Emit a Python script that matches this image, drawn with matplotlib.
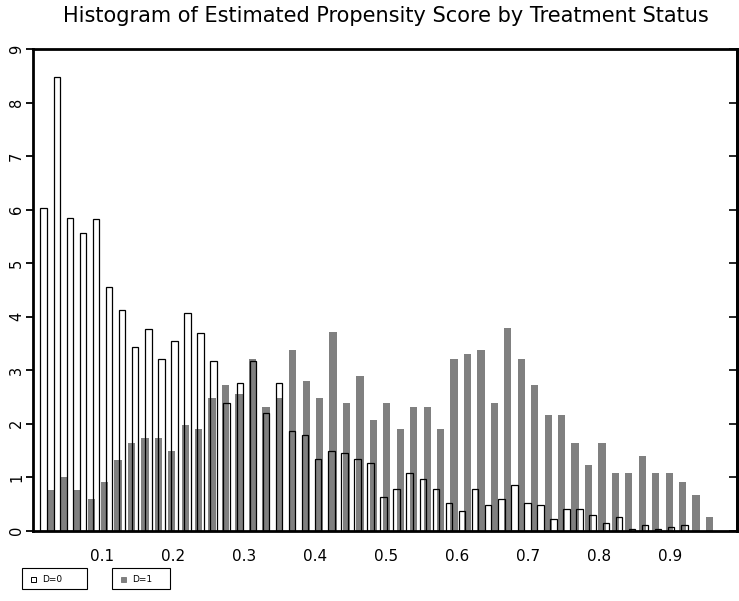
import numpy as np
import matplotlib
matplotlib.use('Agg')
import matplotlib.pyplot as plt
from matplotlib.patches import Rectangle

# density of the estimated propensity score, 50 bins per group
d0_density = [6.03, 8.48, 5.85, 5.56, 5.82, 4.55, 4.13, 3.43, 3.76, 3.20,
              3.54, 4.06, 3.69, 3.16, 2.39, 2.76, 3.16, 2.20, 2.76, 1.86,
              1.79, 1.34, 1.49, 1.45, 1.34, 1.26, 0.63, 0.78, 1.08, 0.97,
              0.78, 0.52, 0.37, 0.78, 0.48, 0.59, 0.85, 0.52, 0.48, 0.22,
              0.40, 0.40, 0.29, 0.14, 0.26, 0.03, 0.11, 0.03, 0.07, 0.11]
d1_density = [0.75, 1.00, 0.75, 0.58, 0.90, 1.31, 1.64, 1.73, 1.73, 1.48,
              1.98, 1.89, 2.47, 2.72, 2.56, 3.21, 2.31, 2.47, 3.38, 2.80,
              2.47, 3.71, 2.39, 2.88, 2.06, 2.39, 1.90, 2.31, 2.31, 1.90,
              3.21, 3.30, 3.38, 2.39, 3.79, 3.21, 2.72, 2.15, 2.15, 1.64,
              1.23, 1.64, 1.07, 1.07, 1.40, 1.07, 1.07, 0.91, 0.67, 0.25]
# min / max score of each group
d0_range = (0.0126, 0.9332)
d1_range = (0.0126, 0.9593)

xtick_values = [0.1, 0.2, 0.3, 0.4, 0.5, 0.6, 0.7, 0.8, 0.9]
ytick_values = list(range(10))
legend_labels = ['D=0', 'D=1']
title = 'Histogram of Estimated Propensity Score by Treatment Status'

W, H = 739, 601
fig = plt.figure(figsize=(W / 100, H / 100), dpi=100)


def fx(px):
    return px / W


def fy(py):
    return 1 - py / H


ax = fig.add_axes([fx(33), fy(530.5), fx(737) - fx(33), fy(49) - fy(530.5)])

edges0 = np.linspace(d0_range[0], d0_range[1], len(d0_density) + 1)
edges1 = np.linspace(d1_range[0], d1_range[1], len(d1_density) + 1)
w0 = edges0[1] - edges0[0]
w1 = edges1[1] - edges1[0]

# white fill first, grey on top, then the D=0 outlines so they show through
ax.bar(edges0[:-1], d0_density, width=w0 * 0.5, align='edge',
       color='white', edgecolor='none', zorder=1)
ax.bar(edges1[:-1] + w1 * 0.5, d1_density, width=w1 * 0.54, align='edge',
       color='#808080', edgecolor='none', zorder=2)
ax.bar(edges0[:-1], d0_density, width=w0 * 0.5, align='edge',
       fill=False, edgecolor='black', linewidth=0.9, zorder=3)

ax.set_xlim(0.0021, 0.9937)
ax.set_ylim(0, 9)
ax.set_xticks(xtick_values)
ax.set_xticklabels([f'{v:.1f}' for v in xtick_values])
ax.set_yticks(ytick_values)
ax.tick_params(axis='x', length=0, pad=13, labelsize=11)
ax.tick_params(axis='y', direction='out', length=5, width=1.3, pad=1.5,
               labelsize=10.5, left=True, right=False)
for lab in ax.get_yticklabels():
    lab.set_rotation(90)
    lab.set_va('center')
    lab.set_ha('right')

sec = ax.secondary_yaxis('right')
sec.set_yticks(ytick_values)
sec.tick_params(direction='in', length=6, width=1.2, labelright=False)
sec.spines['right'].set_linewidth(2)

for s in ax.spines.values():
    s.set_linewidth(2)
    s.set_color('black')

fig.text(fx(386), fy(22.5), title, ha='center', va='baseline', fontsize=15)

# legend boxes below the plot
boxes = [(21.7, 65), (111.7, 58.3)]
fills = ['white', '#808080']
for (bx, bw), fc, lab in zip(boxes, fills, legend_labels):
    fig.add_artist(Rectangle((fx(bx), fy(589)), fx(bw), fy(568) - fy(589),
                             transform=fig.transFigure, fill=False,
                             edgecolor='black', linewidth=0.8))
    fig.add_artist(Rectangle((fx(bx + 9), fy(581.5)), fx(5), fy(576.5) - fy(581.5),
                             transform=fig.transFigure, facecolor=fc,
                             edgecolor='black' if fc == 'white' else fc,
                             linewidth=0.7))
    fig.text(fx(bx + 20.5), fy(579), lab, ha='left', va='center', fontsize=6.5)

fig.savefig('out.png', dpi=100)
